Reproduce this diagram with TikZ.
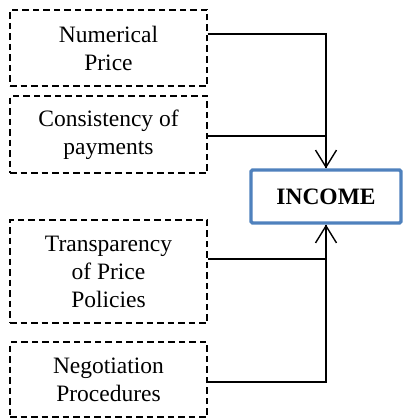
\documentclass[tikz,border=0pt]{standalone}
\usepackage{fontspec}
\setmainfont{Liberation Serif}
\usetikzlibrary{arrows.meta}
\definecolor{incblue}{HTML}{4F81BD}
\tikzset{
  factor/.style={draw=black, line width=1.4pt, dash pattern=on 6.5pt off 4pt,
    minimum width=197pt, align=center, inner sep=0pt,
    font=\fontsize{23.5}{28}\selectfont},
  result/.style={draw=incblue, line width=3.2pt, rounded corners=1.5pt,
    fill=white, minimum width=150pt, minimum height=53pt, inner sep=0pt,
    font=\fontsize{23.5}{28}\selectfont\bfseries},
  link/.style={draw=black, line width=1.4pt},
  linkarrow/.style={link, -{Straight Barb[length=17pt,width=21pt,line width=1.4pt]}}
}
\begin{document}
\begin{tikzpicture}[x=1pt,y=-1pt]
  \useasboundingbox (0,0) rectangle (402,420);

  % factor boxes on the left
  \node[factor, minimum height=76pt]  (b1) at (108.5,48)    {Numerical\\Price};
  \node[factor, minimum height=77pt]  (b2) at (108.5,134.5) {Consistency of\\payments};
  \node[factor, minimum height=103pt] (b3) at (108.5,271.5) {Transparency\\of Price\\Policies};
  \node[factor, minimum height=75pt]  (b4) at (108.5,379.5) {Negotiation\\Procedures};

  % the outcome
  \node[result] (inc) at (326,196.5) {INCOME};

  % where each connector leaves its box
  \coordinate (p1) at ([yshift=14pt]b1.east);
  \coordinate (p2) at ([yshift=-1.5pt]b2.east);
  \coordinate (p3) at ([yshift=12.5pt]b3.east);
  \coordinate (p4) at ([yshift=-2.5pt]b4.east);

  % connectors from above
  \draw[link] (p2) -| (inc.north);
  \draw[linkarrow] (p1) -| (inc.north);

  % connectors from below
  \draw[link] (p3) -| (inc.south);
  \draw[linkarrow] (p4) -| (inc.south);
\end{tikzpicture}
\end{document}
